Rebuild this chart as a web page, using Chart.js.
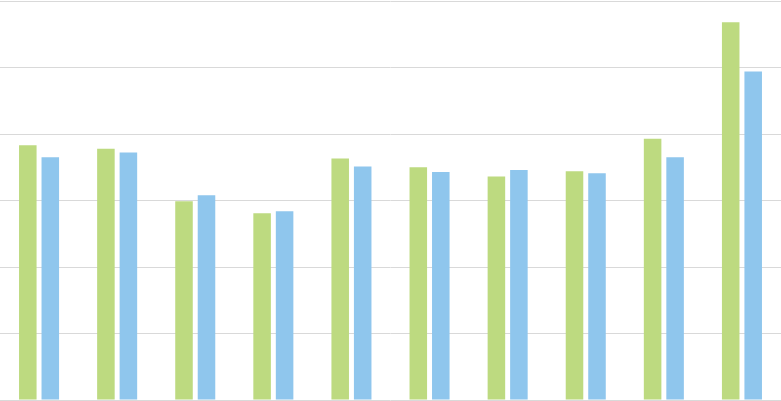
<!DOCTYPE html>
<html>
<head>
<meta charset="utf-8">
<script src="https://cdn.jsdelivr.net/npm/chart.js@4"></script>
<style>
  html, body { margin: 0; padding: 0; background: #fff; }
  #wrap { width: 781px; height: 401px; }
</style>
</head>
<body>
<div id="wrap"><canvas id="myChart"></canvas></div>
<script>
// Data
var categories = ['1', '2', '3', '4', '5', '6', '7', '8', '9', '10'];
var seriesA = [38.3, 37.8, 29.9, 28.1, 36.3, 35.0, 33.6, 34.4, 39.3, 56.8];
var seriesB = [36.5, 37.2, 30.8, 28.4, 35.1, 34.3, 34.6, 34.1, 36.5, 49.4];
var yTicks = [0, 10, 20, 30, 40, 50, 60];

const data = {
    labels: categories,
    datasets: [
        {
            label: 'A',
            data: seriesA,
            backgroundColor: 'rgb(189, 218, 128)',
            barPercentage: 0.78,
            categoryPercentage: 0.576
        },
        {
            label: 'B',
            data: seriesB,
            backgroundColor: 'rgb(143, 198, 237)',
            barPercentage: 0.78,
            categoryPercentage: 0.576
        }
    ]
};

const config = {
    type: 'bar',
    data: data,
    options: {
        responsive: true,
        maintainAspectRatio: false,
        animation: false,
        layout: { padding: { top: 1, bottom: 1, left: 0, right: 0 } },
        plugins: {
            legend: { display: false },
            tooltip: { enabled: false }
        },
        scales: {
            x: {
                display: false
            },
            y: {
                min: yTicks[0],
                max: yTicks[yTicks.length - 1],
                afterBuildTicks: function (axis) {
                    axis.ticks = yTicks.map(function (v) { return { value: v }; });
                },
                grid: { color: '#d9d9d9', lineWidth: 1, drawTicks: false },
                border: { display: false },
                ticks: { display: false }
            }
        }
    }
};

var myChart = new Chart(document.getElementById('myChart'), config);
</script>
</body>
</html>
